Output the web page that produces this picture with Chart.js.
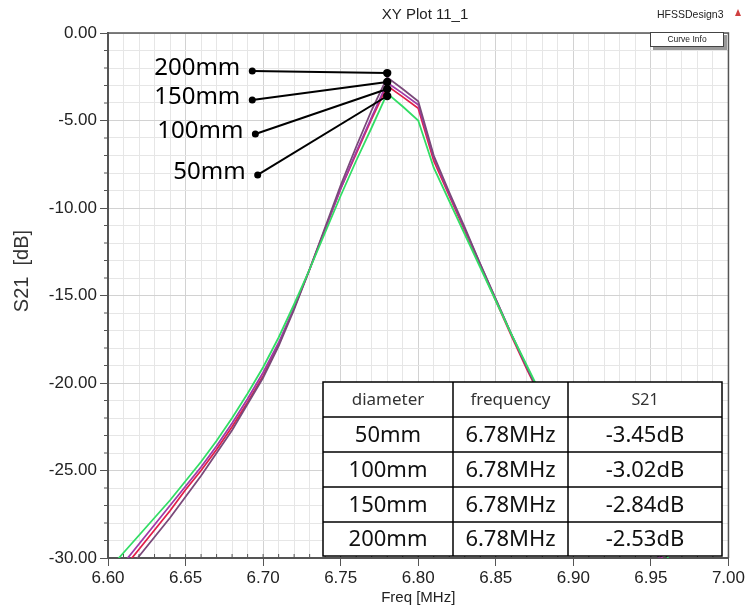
<!DOCTYPE html>
<html><head><meta charset="utf-8">
<script src="https://cdn.jsdelivr.net/npm/chart.js@4/dist/chart.umd.min.js"></script>
<style>html,body{margin:0;padding:0;background:#fff;overflow:hidden}#wrap{position:relative;width:747px;height:613px}</style>
</head><body><div id="wrap"><canvas id="c" width="747" height="613"></canvas></div>
<script>
// ---- data ----
const freqMHz = [6.60,6.61,6.62,6.63,6.64,6.65,6.66,6.67,6.68,6.69,6.70,6.71,6.72,6.73,6.74,6.75,6.76,6.77,6.78,6.79,6.80,6.81,6.82,6.83,6.84,6.85,6.86,6.87,6.88,6.89,6.90,6.91,6.92,6.93,6.94,6.95,6.96,6.97,6.98,6.99,7.00];
const s21_50mm  = [-30.7,-29.7,-28.7,-27.7,-26.7,-25.6,-24.5,-23.3,-22.0,-20.6,-19.1,-17.4,-15.5,-13.5,-11.4,-9.3,-7.3,-5.4,-3.45,-4.2,-5.0,-7.7,-9.6,-11.5,-13.4,-15.3,-17.2,-19.0,-20.8,-22.0,-23.2,-24.4,-25.5,-26.6,-27.7,-28.8,-29.9,-30.9,-31.9,-32.8,-33.7];
const s21_100mm = [-31.9,-30.6,-29.5,-28.4,-27.3,-26.1,-25.0,-23.8,-22.5,-21.1,-19.6,-17.8,-15.7,-13.5,-11.2,-8.9,-6.9,-4.9,-3.02,-3.65,-4.3,-7.3,-9.3,-11.3,-13.3,-15.3,-17.3,-19.2,-21.0,-22.3,-23.5,-24.7,-25.9,-27.0,-28.1,-29.2,-30.3,-31.3,-32.3,-33.2,-34.1];
const s21_150mm = [-31.5,-30.3,-29.2,-28.1,-27.0,-25.9,-24.8,-23.6,-22.3,-20.9,-19.4,-17.7,-15.7,-13.5,-11.2,-8.9,-6.8,-4.8,-2.84,-3.45,-4.1,-7.1,-9.2,-11.2,-13.2,-15.2,-17.2,-19.1,-20.9,-22.2,-23.5,-24.7,-25.9,-27.0,-28.1,-29.2,-30.3,-31.3,-32.3,-33.2,-34.1];
const s21_200mm = [-32.3,-31.1,-29.9,-28.8,-27.7,-26.5,-25.3,-24.0,-22.7,-21.2,-19.7,-17.9,-15.8,-13.5,-11.1,-8.7,-6.5,-4.4,-2.53,-3.2,-3.9,-7.0,-9.1,-11.1,-13.2,-15.2,-17.2,-19.1,-21.0,-22.3,-23.5,-24.8,-26.0,-27.1,-28.3,-29.4,-30.5,-31.5,-32.5,-33.4,-34.3];

// annotation callouts (data units)
const annoLabels = ['200mm','150mm','100mm','50mm'];
const annoFromX  = [6.693, 6.693, 6.695, 6.6965];
const annoFromY  = [-2.17, -3.83, -5.77, -8.11];
const annoToX    = [6.78, 6.78, 6.78, 6.78];
const annoToY    = [-2.29, -2.80, -3.20, -3.60];

// summary table
const tableHeader = ['diameter','frequency','S21'];
const tableDiam   = ['50mm','100mm','150mm','200mm'];
const tableFreq   = ['6.78MHz','6.78MHz','6.78MHz','6.78MHz'];
const tableS21    = ['-3.45dB','-3.02dB','-2.84dB','-2.53dB'];

const chartTitle = 'XY Plot 11_1';
const designName = 'HFSSDesign3';
const xTitle = 'Freq [MHz]';
const yTitle = 'S21  [dB]';

// ---- chart ----
const SANS = '"Liberation Sans", Arial, sans-serif';
const NOTO = '"Noto Sans", "Open Sans", sans-serif';
function pts(arr){ return freqMHz.map((f,i)=>({x:f,y:arr[i]})); }
function ds(arr,color){ return {data:pts(arr),borderColor:color,borderWidth:1.8,pointRadius:0,tension:0,fill:false}; }
const isMajorX = v => Math.round(v*100)%5===0;
const isMajorY = v => Math.round(v)%5===0;

const overlay = {
  id:'overlay',
  afterDatasetsDraw(chart){
    const c = chart.ctx, xs = chart.scales.x, ys = chart.scales.y, a = chart.chartArea;
    c.save();
    // frame top/right
    c.strokeStyle = '#555'; c.lineWidth = 1.5;
    c.beginPath(); c.moveTo(a.left, a.top); c.lineTo(a.right, a.top); c.lineTo(a.right, a.bottom); c.stroke();
    // minor ticks
    c.lineWidth = 1; c.strokeStyle = '#555';
    ys.ticks.forEach(t=>{ const y = ys.getPixelForValue(t.value); if(!isMajorY(t.value)){ c.beginPath(); c.moveTo(a.left-4,y); c.lineTo(a.left,y); c.stroke(); } });
    xs.ticks.forEach(t=>{ const x = xs.getPixelForValue(t.value); c.beginPath(); c.moveTo(x,a.bottom); c.lineTo(x,a.bottom-4); c.stroke(); });
    // callouts
    c.strokeStyle = '#000'; c.fillStyle = '#000'; c.lineWidth = 2;
    for(let i=0;i<annoLabels.length;i++){
      const x0 = xs.getPixelForValue(annoFromX[i]), y0 = ys.getPixelForValue(annoFromY[i]);
      const x1 = xs.getPixelForValue(annoToX[i]), y1 = ys.getPixelForValue(annoToY[i]);
      c.beginPath(); c.moveTo(x0,y0); c.lineTo(x1,y1); c.stroke();
      c.beginPath(); c.arc(x0,y0,3.5,0,Math.PI*2); c.fill();
      c.beginPath(); c.arc(x1,y1,4.2,0,Math.PI*2); c.fill();
      c.font = '24px '+NOTO; c.textAlign='right'; c.textBaseline='middle';
      c.fillText(annoLabels[i], x0-12, y0-3);
    }
    // table
    const tx=[323,453,568,722], ty=[382,417,452,487,522,556];
    c.fillStyle='#fff'; c.fillRect(tx[0],ty[0],tx[3]-tx[0],ty[5]-ty[0]);
    c.strokeStyle='#000'; c.lineWidth=1.5;
    c.strokeRect(tx[0],ty[0],tx[3]-tx[0],ty[5]-ty[0]);
    for(let k=1;k<5;k++){ c.beginPath(); c.moveTo(tx[0],ty[k]); c.lineTo(tx[3],ty[k]); c.stroke(); }
    for(let k=1;k<3;k++){ c.beginPath(); c.moveTo(tx[k],ty[0]); c.lineTo(tx[k],ty[5]); c.stroke(); }
    const cx=[(tx[0]+tx[1])/2,(tx[1]+tx[2])/2,(tx[2]+tx[3])/2];
    c.textAlign='center'; c.textBaseline='middle';
    c.fillStyle='#333';
    tableHeader.forEach((h,k)=>{ c.font=(k===2?'16px ':'17px ')+NOTO; c.fillText(h,cx[k],(ty[0]+ty[1])/2+1); });
    c.fillStyle='#111'; c.font='22px '+NOTO;
    for(let r=0;r<4;r++){
      const yy=(ty[r+1]+ty[r+2])/2+1;
      c.fillText(tableDiam[r],cx[0],yy); c.fillText(tableFreq[r],cx[1],yy); c.fillText(tableS21[r],cx[2],yy);
    }
    // title & header bits
    c.fillStyle='#222'; c.font='15px '+SANS; c.textAlign='center'; c.textBaseline='middle';
    c.fillText(chartTitle, 425, 15);
    c.font='10.5px '+SANS; c.textAlign='left'; c.fillText(designName, 657, 15);
    c.fillStyle='#d04040'; c.beginPath(); c.moveTo(735,16); c.lineTo(741,16); c.lineTo(738,9); c.closePath(); c.fill();
    // Curve Info box
    c.fillStyle='#999'; c.fillRect(653,35,74,15);
    c.fillStyle='#fff'; c.fillRect(650,32,74,15);
    c.strokeStyle='#444'; c.lineWidth=1; c.strokeRect(650.5,32.5,73,14);
    c.fillStyle='#222'; c.font='8.5px '+SANS; c.textAlign='center'; c.fillText('Curve Info', 687, 40);
    // axis titles
    c.font='15px '+SANS; c.fillStyle='#222'; c.textAlign='center'; c.textBaseline='middle';
    c.fillText(xTitle, (a.left+a.right)/2, 598);
    c.save(); c.translate(22, 271); c.rotate(-Math.PI/2); c.font='20px '+SANS; c.fillStyle='#333'; c.fillText(yTitle,0,0); c.restore();
    c.restore();
  }
};

new Chart(document.getElementById('c'), {
  type:'line',
  data:{ datasets:[ ds(s21_50mm,'#33dd66'), ds(s21_200mm,'#7a4a7a'), ds(s21_150mm,'#a03aa8'), ds(s21_100mm,'#e2204a') ] },
  options:{
    responsive:false, animation:false, devicePixelRatio:1,
    layout:{ padding:{ top:33, right:17, left:0, bottom:0 } },
    plugins:{ legend:{display:false}, tooltip:{enabled:false}, title:{display:false} },
    scales:{
      x:{ type:'linear', min:6.6, max:7.0,
        afterFit(s){ s.height = 55; },
        ticks:{ stepSize:0.01, autoSkip:false, maxRotation:0, minRotation:0, padding:2, color:'#222', font:{family:SANS,size:17},
          callback(v){ return isMajorX(v) ? (Math.round(v*100)/100).toFixed(2) : ''; } },
        grid:{ color:ctx=> (ctx.tick && isMajorX(ctx.tick.value)) ? '#d2d2d2' : '#e6e6e6', lineWidth:1, tickLength:8,
          tickColor:ctx=> (ctx.tick && isMajorX(ctx.tick.value)) ? '#555' : 'rgba(0,0,0,0)' },
        border:{ color:'#555', width:2 } },
      y:{ type:'linear', min:-30, max:0,
        afterFit(s){ s.width = 108; },
        ticks:{ stepSize:1, autoSkip:false, padding:3, color:'#222', font:{family:SANS,size:17},
          callback(v){ return isMajorY(v) ? Number(v).toFixed(2) : ''; } },
        grid:{ color:ctx=> (ctx.tick && isMajorY(ctx.tick.value)) ? '#d2d2d2' : '#e6e6e6', lineWidth:1, tickLength:8,
          tickColor:ctx=> (ctx.tick && isMajorY(ctx.tick.value)) ? '#555' : 'rgba(0,0,0,0)' },
        border:{ color:'#555', width:2 } }
    }
  },
  plugins:[overlay]
});
</script></body></html>
